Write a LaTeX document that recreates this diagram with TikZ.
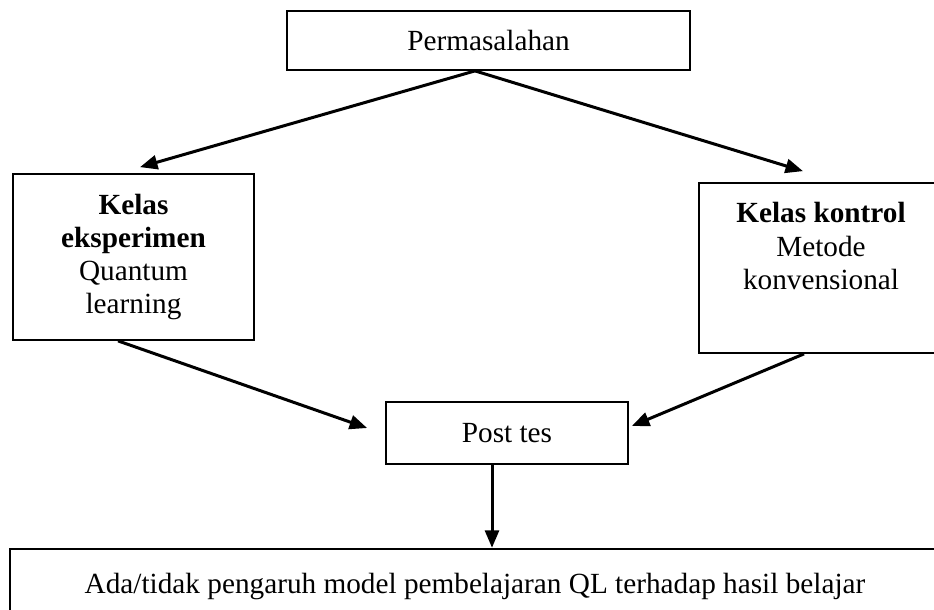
\documentclass[tikz,border=0pt]{standalone}
\usepackage{fontspec}
\setmainfont{Liberation Serif}
\usetikzlibrary{arrows.meta}

\begin{document}
\begin{tikzpicture}[x=0.4pt,y=-0.4pt,
    box/.style={draw,line width=0.7pt,align=center,inner sep=0pt},
    arr/.style={line width=1.2pt,-{Triangle[length=7pt,width=5.6pt]}},
    font=\fontsize{11.7}{13.3}\selectfont]
    \useasboundingbox (0,0) rectangle (934,609);

    %boxes
    \node[box,minimum width=161.2pt,minimum height=23.6pt] (perm) at (488.5,40.5) {Permasalahan};
    \node[box,minimum width=96.4pt,minimum height=66.4pt] (eks) at (133.5,257) {\textbf{Kelas}\\\textbf{eksperimen}\\Quantum\\learning};
    \node[box,minimum width=97.6pt,minimum height=68pt] (kon) at (821,268) {};
    \node[anchor=north,align=center,inner sep=0pt] (kontxt) at (821,202) {\textbf{Kelas kontrol}\\Metode\\konvensional};
    \node[box,minimum width=96.8pt,minimum height=24.8pt] (post) at (507,433) {Post tes};
    \node[box,line width=1pt,minimum width=372pt,minimum height=29.6pt] (hasil) at (475,586) {Ada/tidak pengaruh model pembelajaran QL terhadap hasil belajar};

    %arrows
    \draw[arr] ([xshift=-5.4pt]perm.south) -- ([shift={(2.6pt,2.4pt)}]eks.north);
    \draw[arr] ([xshift=-5.4pt]perm.south) -- ([shift={(-7.2pt,4.4pt)}]kon.north);
    \draw[arr] ([xshift=-6.2pt]eks.south) -- ([shift={(-7.2pt,2pt)}]post.west);
    \draw[arr] ([xshift=-6.8pt]kon.south) -- ([shift={(1.2pt,2.8pt)}]post.east);
    \draw[arr] ([xshift=-6pt]post.south) -- ([xshift=-6pt]post.south |- hasil.north);
\end{tikzpicture}
\end{document}
